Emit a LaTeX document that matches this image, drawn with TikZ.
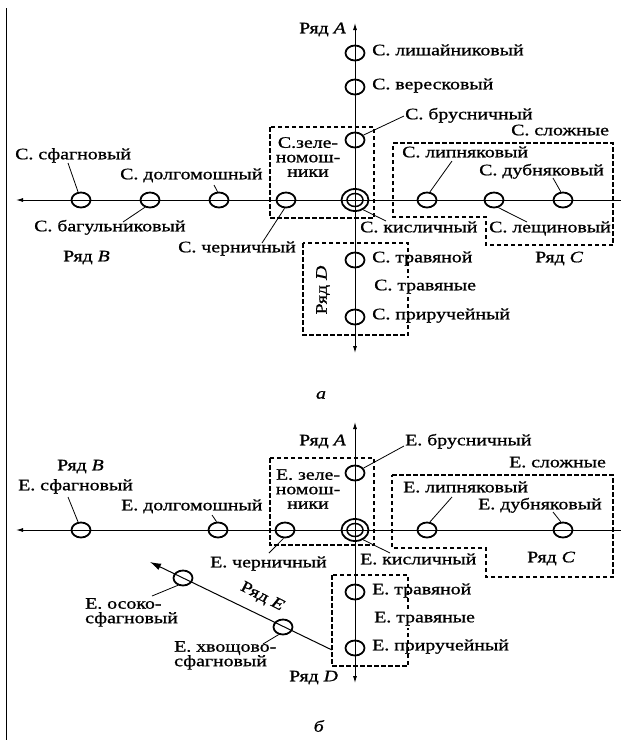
\documentclass[tikz,border=0pt]{standalone}
\usepackage{fontspec}
\setmainfont{Liberation Serif}[FakeStretch=1.24,FakeBold=0.9]
\usetikzlibrary{arrows.meta,shapes.geometric}
\begin{document}
\begin{tikzpicture}[x=1pt,y=-1pt,
  lbl/.style={font=\fontsize{16}{15}\selectfont, inner sep=0pt, anchor=mid west},
  mlbl/.style={font=\fontsize{16}{14.5}\selectfont, inner sep=0pt, align=center},
  ring/.style={ellipse, draw, line width=1.8pt, minimum width=19pt, minimum height=15pt, inner sep=0pt},
  bigring/.style={ellipse, draw, line width=1.8pt, minimum width=27pt, minimum height=22pt, inner sep=0pt},
  smallring/.style={ellipse, draw, line width=1.5pt, minimum width=16pt, minimum height=13pt, inner sep=0pt},
  axis/.style={line width=0.9pt},
  tip/.style={-{Latex[length=7pt,width=4pt]}},
  bothtip/.style={{Latex[length=7pt,width=4pt]}-{Latex[length=7pt,width=4pt]}},
  bigtip/.style={-{Latex[length=11pt,width=7pt]}},
  leader/.style={line width=0.8pt},
  zone/.style={dash pattern=on 4.5pt off 2.5pt, line width=1.1pt}]
\useasboundingbox (0,0) rectangle (621,740);
\fill[white] (0,0) rectangle (621,740);

% left border
\coordinate (lb1) at (6,8);
\coordinate (lb2) at (6,740);
\draw[line width=1pt] (lb1) -- (lb2);

% ================= diagram a =================
\draw[zone] (270,127) rectangle (374,218);
\draw[zone] (393,143) -- (613,143) -- (613,245) -- (486,245) -- (486,217) -- (393,217) -- cycle;
\draw[zone] (303,243) rectangle (408,335);

\coordinate (aTop) at (355,23);
\coordinate (aBot) at (355,353);
\coordinate (aLeft) at (16,200);
\coordinate (aRight) at (621,200);
\draw[axis,bothtip] (aBot) -- (aTop);
\draw[axis,tip] (aRight) -- (aLeft);

\node[ring] (aLish) at (355,53) {};
\node[ring] (aVer) at (355,87) {};
\node[ring] (aBrus) at (355,140) {};
\node[bigring] (aCtr) at (355,200) {};
\node[smallring] (aCtrI) at (355,200) {};
\node[ring] (aSfag) at (81,200) {};
\node[ring] (aBag) at (150,200) {};
\node[ring] (aDolg) at (219,200) {};
\node[ring] (aChern) at (286,200) {};
\node[ring] (aLip) at (427,200) {};
\node[ring] (aLesh) at (494,200) {};
\node[ring] (aDub) at (563,200) {};
\node[ring] (aTrav) at (355,260) {};
\node[ring] (aPrir) at (355,317) {};

\draw[leader] (aBrus.30) -- (404,116) coordinate (laBrus);
\draw[leader] (aSfag.110) -- (68,163) coordinate (laSfag);
\draw[leader] (aDolg.100) -- (214,185) coordinate (laDolg);
\draw[leader] (aBag.235) -- (123,222) coordinate (laBag);
\draw[leader] (aChern.260) -- (262,243) coordinate (laChern);
\draw[leader] (aCtr.310) -- (386,221) coordinate (laCtr);
\draw[leader] (aLip.70) -- (452,161) coordinate (laLip);
\draw[leader] (aDub.105) -- (553,178) coordinate (laDub);
\draw[leader] (aLesh.300) -- (527,222) coordinate (laLesh);

\node[lbl] (tAA) at (299,31) {Ряд \textit{A}};
\node[lbl] (tALish) at (372,53) {С. лишайниковый};
\node[lbl] (tAVer) at (372,87) {С. вересковый};
\node[lbl] (tABrus) at (405,117) {С. брусничный};
\node[mlbl] (tAZel) at (308,157) {С.зеле-\\номош-\\ники};
\node[lbl] (tASl) at (511,133) {С. сложные};
\node[lbl] (tALip) at (402,155) {С. липняковый};
\node[lbl] (tADub) at (479,173) {С. дубняковый};
\node[lbl] (tASfag) at (15,157) {С. сфагновый};
\node[lbl] (tADolg) at (120,177) {С. долгомошный};
\node[lbl] (tABag) at (34,229) {С. багульниковый};
\node[lbl] (tAChern) at (178,250) {С. черничный};
\node[lbl] (tAB) at (63,259) {Ряд \textit{B}};
\node[lbl] (tACtr) at (360,230) {С. кисличный};
\node[lbl] (tALesh) at (489,230) {С. лещиновый};
\node[lbl] (tAC) at (535,260) {Ряд \textit{C}};
\node[lbl] (tATrav) at (372,260) {С. травяной};
\node[lbl, fill=white, inner xsep=1pt, inner ysep=2pt] (tATr) at (373,288) {С. травяные};
\node[lbl] (tAPrir) at (372,317) {С. приручейный};
\node[lbl, anchor=center, rotate=90] (tAD) at (323,290) {Ряд \textit{D}};
\node[lbl, anchor=center] (capA) at (321,395) {\textit{а}};

% ================= diagram b =================
\draw[zone] (270,458) rectangle (374,545);
\draw[zone] (392,475) -- (613,475) -- (613,577) -- (486,577) -- (486,548) -- (392,548) -- cycle;
\draw[zone] (332,575) rectangle (408,666);

\coordinate (bTop) at (355,422);
\coordinate (bBot) at (355,683);
\coordinate (bLeft) at (16,530);
\coordinate (bRight) at (621,530);
\draw[axis,bothtip] (bBot) -- (bTop);
\draw[axis,tip] (bRight) -- (bLeft);

\node[ring] (bBrus) at (355,473) {};
\node[bigring] (bCtr) at (355,530) {};
\node[smallring] (bCtrI) at (355,530) {};
\node[ring] (bSfag) at (81,530) {};
\node[ring] (bDolg) at (218,530) {};
\node[ring] (bChern) at (285,530) {};
\node[ring] (bLip) at (427,530) {};
\node[ring] (bDub) at (563,530) {};
\node[ring] (bTrav) at (355,592) {};
\node[ring] (bPrir) at (355,648) {};
\node[ring] (bOsok) at (183,578) {};
\node[ring] (bHvosh) at (283,627) {};

\coordinate (eStart) at (332,650);
\coordinate (eTip) at (150,562);
\draw[line width=1pt,bigtip] (eStart) -- (eTip);

\draw[leader] (bBrus.30) -- (404,446) coordinate (lbBrus);
\draw[leader] (bSfag.110) -- (68,497) coordinate (lbSfag);
\draw[leader] (bDolg.100) -- (212,515) coordinate (lbDolg);
\draw[leader] (bChern.260) -- (269,553) coordinate (lbChern);
\draw[leader] (bCtr.310) -- (390,553) coordinate (lbCtr);
\draw[leader] (bLip.70) -- (452,497) coordinate (lbLip);
\draw[leader] (bDub.105) -- (553,512) coordinate (lbDub);
\draw[leader] (bOsok.235) -- (152,596) coordinate (lbOsok);
\draw[leader] (bHvosh.240) -- (263,644) coordinate (lbHvosh);

\node[lbl] (tBA) at (299,443) {Ряд \textit{A}};
\node[lbl] (tBBrus) at (405,443) {Е. брусничный};
\node[mlbl] (tBZel) at (308,489) {Е. зеле-\\номош-\\ники};
\node[lbl] (tBSl) at (509,465) {Е. сложные};
\node[lbl] (tBLip) at (403,490) {Е. липняковый};
\node[lbl] (tBDub) at (478,507) {Е. дубняковый};
\node[lbl] (tBB) at (57,468) {Ряд \textit{B}};
\node[lbl] (tBSfag) at (18,488) {Е. сфагновый};
\node[lbl] (tBDolg) at (121,508) {Е. долгомошный};
\node[lbl] (tBChern) at (210,565) {Е. черничный};
\node[lbl] (tBCtr) at (360,562) {Е. кисличный};
\node[lbl] (tBC) at (527,560) {Ряд \textit{C}};
\node[lbl] (tBTrav) at (372,592) {Е. травяной};
\node[lbl, fill=white, inner xsep=1pt, inner ysep=2pt] (tBTr) at (373,620) {Е. травяные};
\node[lbl] (tBPrir) at (372,648) {Е. приручейный};
\node[mlbl, align=left, anchor=north west] (tBOsok) at (85,598) {Е. осоко-\\сфагновый};
\node[mlbl, align=left, anchor=north west] (tBHvosh) at (174,641) {Е. хвощово-\\сфагновый};
\node[lbl, anchor=center, rotate=-27] (tBE) at (262,597) {Ряд \textit{E}};
\node[lbl] (tBD) at (289,679) {Ряд \textit{D}};
\node[lbl, anchor=center] (capB) at (319,726) {\textit{б}};
\end{tikzpicture}
\end{document}
